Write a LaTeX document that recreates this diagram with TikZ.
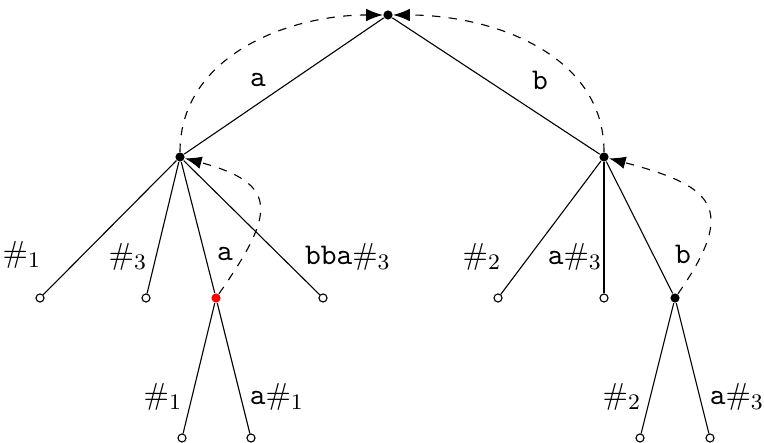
\documentclass[tikz,border=0pt]{standalone}
\usepackage{amssymb}
\usepackage{amsmath}
\usetikzlibrary{arrows.meta,positioning}

\begin{document}
\begin{tikzpicture}[x=0.36pt,y=0.36pt,>={Latex[length=6pt,width=4.5pt]},
      dot/.style={circle,fill=black,inner sep=0pt,minimum size=3.3pt},
      leaf/.style={circle,draw,fill=white,inner sep=0pt,minimum size=2.9pt},
      lbl/.style={inner sep=0pt,font=\fontsize{10.8}{13}\selectfont},
      back/.style={->,dashed}]
    \useasboundingbox (0,0) rectangle (764,443);
    % states
    \node[dot] (r) at (388,428) {};
    \node[dot] (l) at (180,286) {};
    \node[dot] (rr) at (604,286) {};
    \node[leaf] (l1) at (40,145) {};
    \node[leaf] (l2) at (146,145) {};
    \node[dot,fill=red] (la) at (216,145) {};
    \node[leaf] (l4) at (323,145) {};
    \node[leaf] (r1) at (498,145) {};
    \node[leaf] (r2) at (604,145) {};
    \node[dot] (rb) at (675,145) {};
    \node[leaf] (la1) at (182,5) {};
    \node[leaf] (la2) at (251,5) {};
    \node[leaf] (rb1) at (640,5) {};
    \node[leaf] (rb2) at (710,5) {};
    % edges
    \draw (r)--(l);\draw (r)--(rr);
    \draw (l)--(l1);\draw (l)--(l2);\draw (l)--(la);\draw (l)--(l4);
    \draw (rr)--(r1);\draw (rr)--(r2);\draw (rr)--(rb);
    \draw (la)--(la1);\draw (la)--(la2);
    \draw (rb)--(rb1);\draw (rb)--(rb2);
    % labels
    \node[lbl] (ta) at (258,363) {\texttt{a}};
    \node[lbl] (tb) at (540,363) {\texttt{b}};
    \node[lbl] (t1) at (22,188) {$\#_1$};
    \node[lbl] (t3) at (128,186) {$\#_3$};
    \node[lbl] (t4) at (225,189) {\texttt{a}};
    \node[lbl] (t5) at (348,186) {\texttt{bba}$\#_3$};
    \node[lbl] (t6) at (482,186) {$\#_2$};
    \node[lbl] (t7) at (575,186) {\texttt{a}$\#_3$};
    \node[lbl] (t8) at (683,189) {\texttt{b}};
    \node[lbl] (t9) at (163,46) {$\#_1$};
    \node[lbl] (t10) at (277,46) {\texttt{a}$\#_1$};
    \node[lbl] (t11) at (622,46) {$\#_2$};
    \node[lbl] (t12) at (737,46) {\texttt{a}$\#_3$};
    % back links
    \draw[back] (l) to[out=90,in=180] (r);
    \draw[back] (rr) to[out=90,in=0] (r);
    \draw[back] (la) to[out=55,in=-15,looseness=1.8] (l);
    \draw[back] (rb) to[out=55,in=-15,looseness=1.8] (rr);
  \end{tikzpicture}
\end{document}
